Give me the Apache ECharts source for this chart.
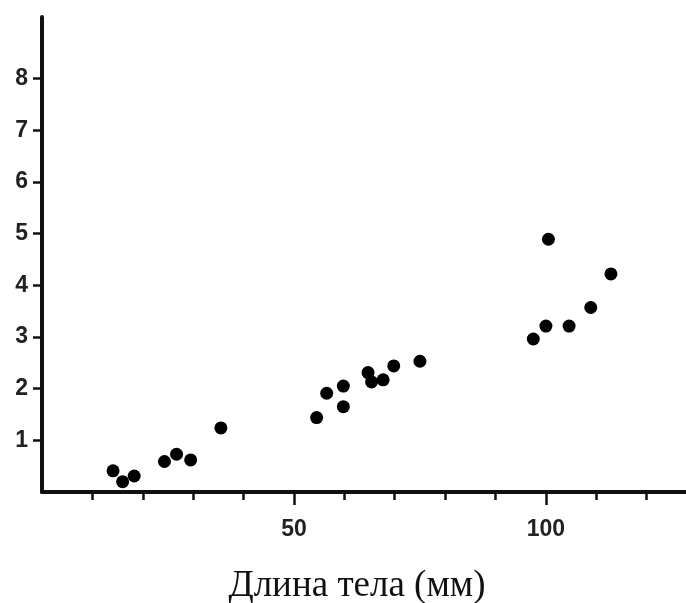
<!DOCTYPE html>
<html>
<head>
<meta charset="utf-8">
<script src="https://cdn.jsdelivr.net/npm/echarts@6/dist/echarts.min.js"></script>
<style>
  html, body { margin: 0; padding: 0; background: #fff; }
  #chart { width: 686px; height: 603px; }
</style>
</head>
<body>
<div id="chart"></div>
<script>
// body length (mm) and the measured value for each specimen
const lengths = [14.1, 16.0, 18.3, 24.3, 26.7, 29.5, 35.5, 54.5, 56.5, 59.8, 59.8, 64.7, 65.4, 67.7, 69.8, 75.0, 97.5, 100.0, 100.5, 104.6, 108.9, 112.9];
const values = [0.41, 0.20, 0.31, 0.59, 0.73, 0.62, 1.24, 1.44, 1.91, 2.05, 1.65, 2.31, 2.13, 2.17, 2.44, 2.53, 2.96, 3.21, 4.89, 3.21, 3.57, 4.22];

const xMinorTicks = [10, 20, 30, 40, 60, 70, 80, 90, 110, 120];
const xLabels = [50, 100];
const yLabels = [1, 2, 3, 4, 5, 6, 7, 8];

const points = lengths.map((l, i) => [l, values[i]]);

const chart = echarts.init(document.getElementById('chart'));

const option = {
  backgroundColor: '#fff',
  animation: false,
  grid: { left: 42, right: 0, top: 17, bottom: 111 },
  xAxis: [
    {
      type: 'value',
      min: 0,
      max: 127.8,
      splitLine: { show: false },
      axisLine: { lineStyle: { color: '#111', width: 4 } },
      axisTick: { customValues: xMinorTicks, length: 8, lineStyle: { color: '#111', width: 2.5 } },
      axisLabel: {
        customValues: xLabels,
        margin: 26,
        color: '#222',
        fontSize: 23,
        fontWeight: 'bold',
        fontFamily: 'Liberation Sans'
      }
    },
    {
      // longer ticks under the labelled values
      type: 'value',
      position: 'bottom',
      min: 0,
      max: 127.8,
      splitLine: { show: false },
      axisLine: { show: false },
      axisTick: { customValues: xLabels, length: 13, lineStyle: { color: '#111', width: 2.5 } },
      axisLabel: { show: false }
    }
  ],
  yAxis: {
    type: 'value',
    min: 0,
    max: 9.19,
    splitLine: { show: false },
    axisLine: { lineStyle: { color: '#111', width: 4 } },
    axisTick: { customValues: yLabels, length: 9, lineStyle: { color: '#111', width: 2.5 } },
    axisLabel: {
      customValues: yLabels,
      margin: 14,
      color: '#222',
      fontSize: 23,
      fontWeight: 'bold',
      fontFamily: 'Liberation Sans'
    }
  },
  graphic: [
    {
      type: 'text',
      x: 357,
      y: 586,
      style: {
        text: 'Длина тела (мм)',
        fill: '#111',
        font: '37px "Liberation Serif"',
        textAlign: 'center',
        textVerticalAlign: 'middle'
      }
    }
  ],
  series: [
    {
      type: 'scatter',
      data: points,
      symbol: 'circle',
      symbolSize: 13,
      itemStyle: { color: '#000', opacity: 1 }
    }
  ]
};

chart.setOption(option);
</script>
</body>
</html>
